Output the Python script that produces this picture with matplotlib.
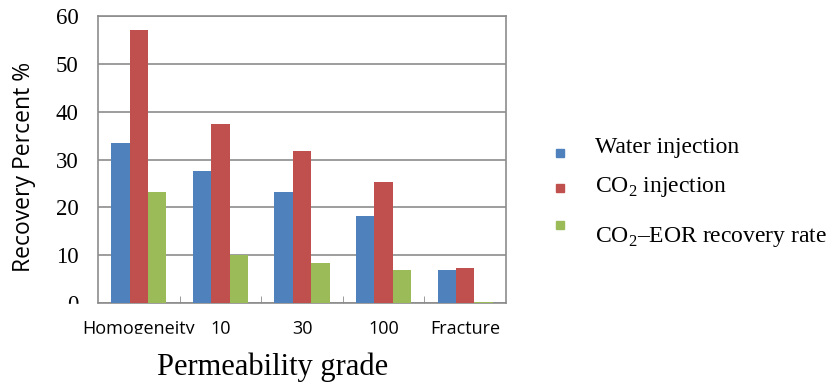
import numpy as np
import matplotlib.pyplot as plt
from matplotlib.patches import Rectangle

plt.rcParams["mathtext.fontset"] = "custom"
plt.rcParams["mathtext.rm"] = "Liberation Serif"

categories = ["Homogeneity", "10", "30", "100", "Fracture"]
water = [33.5, 27.5, 23.2, 18.2, 7.0]
co2 = [57.0, 37.5, 31.8, 25.4, 7.3]
eor = [23.2, 10.0, 8.3, 7.0, 0.3]
series_names = ["Water injection", r"CO$_{\mathregular{2}}$ injection",
                "CO$_{\\mathregular{2}}$\u2013EOR recovery rate"]
colors = ["#4F81BD", "#C0504D", "#9BBB59"]

fig = plt.figure(figsize=(8.3, 3.85), dpi=100)
ax = fig.add_axes([98 / 830, 1 - 303 / 385, 408 / 830, 287 / 385])

x = np.arange(len(categories))
w = 0.225
for i, vals in enumerate([water, co2, eor]):
    ax.bar(x + (i - 1) * w, vals, width=w, color=colors[i], zorder=3)

ax.set_xlim(-0.5, len(categories) - 0.5)
ax.set_ylim(0, 60)
ax.set_yticks(range(0, 61, 10))
ax.yaxis.grid(True, color="#8c8c8c", linewidth=1.2, zorder=0)
ax.tick_params(axis="y", length=0, pad=14)
for lab in ax.get_yticklabels():
    lab.set_fontfamily("Liberation Serif")
    lab.set_fontsize(16.5)

ax.set_xticks(x)
ax.set_xticklabels(categories, fontfamily="Open Sans", fontsize=13)
ax.tick_params(axis="x", length=0, pad=12)
ax.set_xticks(np.arange(len(categories) - 1) + 0.5, minor=True)
ax.tick_params(axis="x", which="minor", direction="in", length=5, color="#8c8c8c")

for s in ax.spines.values():
    s.set_color("#8c8c8c")
    s.set_linewidth(1.2)

ax.set_ylabel("Recovery Percent %", fontfamily="Open Sans", fontsize=16.5, va="center")
ax.yaxis.set_label_coords(-0.181, 0.474)
ax.set_xlabel("Permeability grade", fontfamily="Liberation Serif", fontsize=22, va="center")
ax.xaxis.set_label_coords(0.429, -0.223)

# clipped look of the original labels
fig.patches.append(Rectangle((55 / 830, 1 - 316 / 385), 42 / 830, 12 / 385,
                             transform=fig.transFigure, color="white", zorder=10))
fig.patches.append(Rectangle((70 / 830, 1 - 344 / 385), 480 / 830, 10 / 385,
                             transform=fig.transFigure, color="white", zorder=10))

# legend
sq_y = [153, 188, 225]
txt_y = [147, 187, 237]
for i in range(3):
    fig.patches.append(Rectangle((556 / 830, 1 - (sq_y[i] + 4) / 385), 8 / 830, 8 / 385,
                                 transform=fig.transFigure, color=colors[i], zorder=5))
    fig.text(595 / 830, 1 - txt_y[i] / 385, series_names[i], fontfamily="Liberation Serif",
             fontsize=17, ha="left", va="center")

fig.savefig("out.png", dpi=100)
